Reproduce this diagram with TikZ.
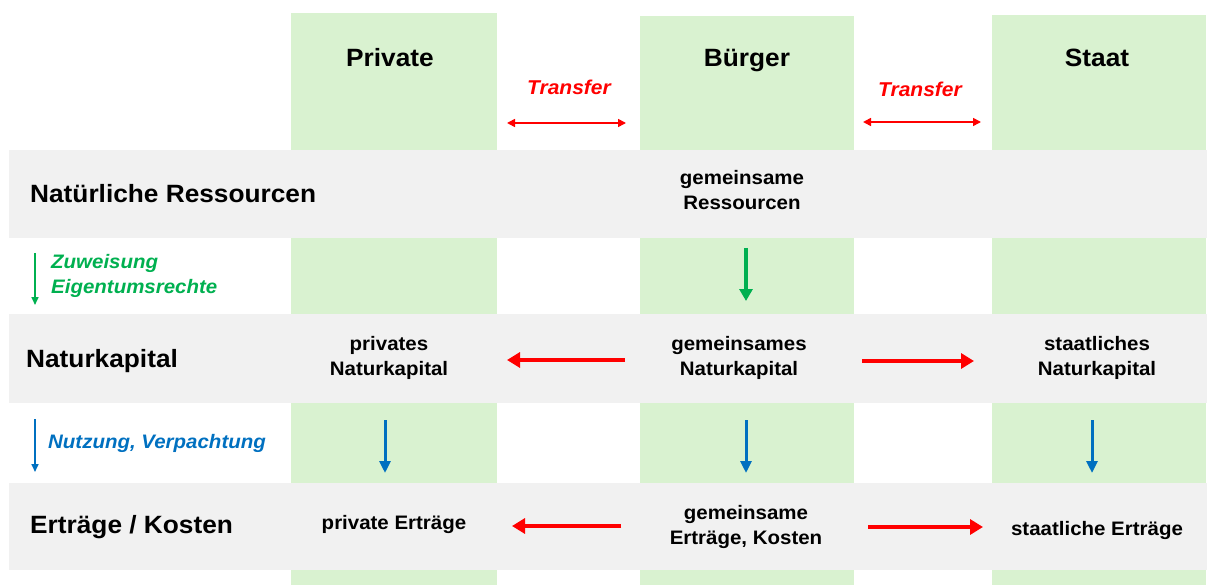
\documentclass[tikz,border=0pt]{standalone}
\usepackage{fontspec}
\setmainfont{Liberation Sans}[FakeStretch=1.05]
\usetikzlibrary{arrows.meta}
\definecolor{colgreen}{HTML}{D9F2D0}
\definecolor{bandgrey}{HTML}{F1F1F1}
\definecolor{txtgreen}{HTML}{00B050}
\definecolor{txtblue}{HTML}{0070C0}
\definecolor{txtred}{HTML}{FF0000}
\begin{document}
\begin{tikzpicture}[x=1pt,y=-1pt,
        head/.style={anchor=base,font=\fontsize{25}{30}\selectfont\bfseries,inner sep=0pt},
        rowlabel/.style={anchor=base west,font=\fontsize{25}{30}\selectfont\bfseries,inner sep=0pt},
        cell/.style={align=center,font=\fontsize{19.5}{25}\selectfont\bfseries,inner sep=0pt},
        transfer/.style={anchor=base,text=txtred,font=\fontsize{20}{24}\selectfont\bfseries\itshape,inner sep=0pt},
        note/.style={anchor=west,align=left,font=\fontsize{19.5}{25}\selectfont\bfseries\itshape,inner sep=0pt},
        thinarrow/.style={line width=1.6pt,-{Triangle[length=8pt,width=7pt]}},
        redarrow/.style={draw=txtred,line width=4.5pt,-{Triangle[length=13pt,width=15pt]}},
        bluearrow/.style={draw=txtblue,line width=3pt,-{Triangle[length=12pt,width=11pt]}},
        greenarrow/.style={draw=txtgreen,line width=4pt,-{Triangle[length=12pt,width=13pt]}}]
      \useasboundingbox (0,0) rectangle (1209,585);
      % columns and bands
      \fill[colgreen] (291,13) rectangle (497,585);
      \fill[colgreen] (640,16) rectangle (854,585);
      \fill[colgreen] (992,15) rectangle (1206,585);
      \fill[bandgrey] (9,150) rectangle (1207,238);
      \fill[bandgrey] (9,314) rectangle (1207,403);
      \fill[bandgrey] (9,483) rectangle (1207,570);
      % headers
      \node (priv) at (390,67) [head] {Private};
      \node (buer) at (747,67) [head] {Bürger};
      \node (staat) at (1097,67) [head] {Staat};
      \node (tr1) at (569,95) [transfer] {Transfer};
      \node (tr2) at (920,97) [transfer] {Transfer};
      \coordinate (tr1a) at (507,123);
      \coordinate (tr1b) at (626,123);
      \coordinate (tr2a) at (863,122);
      \coordinate (tr2b) at (981,122);
      \draw (tr1a) edge[thinarrow,{Triangle[length=8pt,width=8pt]}-{Triangle[length=8pt,width=8pt]},draw=txtred] (tr1b);
      \draw (tr2a) edge[thinarrow,{Triangle[length=8pt,width=8pt]}-{Triangle[length=8pt,width=8pt]},draw=txtred] (tr2b);
      % row labels
      \node (resrow) at (30,203) [rowlabel] {Natürliche Ressourcen};
      \node (kaprow) at (26,367) [rowlabel] {Naturkapital};
      \node (ertrow) at (30,533) [rowlabel] {Erträge / Kosten};
      % cells
      \node (gres) at (742,190) [cell] {gemeinsame\\Ressourcen};
      \node (pnk) at (389,358) [cell] {privates\\Naturkapital};
      \node (gnk) at (739,358) [cell] {gemeinsames\\Naturkapital};
      \node (snk) at (1097,358) [cell] {staatliches\\Naturkapital};
      \node (per) at (394,524) [cell] {private Erträge};
      \node (ger) at (746,527) [cell] {gemeinsame\\Erträge, Kosten};
      \node (ser) at (1097,530) [cell] {staatliche Erträge};
      % notes
      \node (zuw) at (51,276) [note,text=txtgreen] {Zuweisung\\Eigentumsrechte};
      \node (nutz) at (48,443) [note,text=txtblue] {Nutzung, Verpachtung};
      \coordinate (zuwa) at (35,253);
      \coordinate (zuwb) at (35,305);
      \coordinate (nutza) at (35,419);
      \coordinate (nutzb) at (35,472);
      \draw (zuwa) edge[thinarrow,draw=txtgreen] (zuwb);
      \draw (nutza) edge[thinarrow,draw=txtblue] (nutzb);
      % arrows
      \coordinate (gresd) at (746,248);
      \coordinate (gnku) at (746,301);
      \draw (gresd) edge[greenarrow] (gnku);
      \coordinate (gnkl) at (625,360);
      \coordinate (pnkr) at (507,360);
      \coordinate (gnkr) at (862,361);
      \coordinate (snkl) at (974,361);
      \draw (gnkl) edge[redarrow] (pnkr);
      \draw (gnkr) edge[redarrow] (snkl);
      \coordinate (pnkd) at (385,420);
      \coordinate (peru) at (385,473);
      \coordinate (gnkd) at (746,420);
      \coordinate (geru) at (746,473);
      \coordinate (snkd) at (1092,420);
      \coordinate (seru) at (1092,473);
      \draw (pnkd) edge[bluearrow] (peru);
      \draw (gnkd) edge[bluearrow] (geru);
      \draw (snkd) edge[bluearrow] (seru);
      \coordinate (gerl) at (621,526);
      \coordinate (perr) at (512,526);
      \coordinate (gerr) at (868,527);
      \coordinate (serl) at (983,527);
      \draw (gerl) edge[redarrow] (perr);
      \draw (gerr) edge[redarrow] (serl);
\end{tikzpicture}
\end{document}
